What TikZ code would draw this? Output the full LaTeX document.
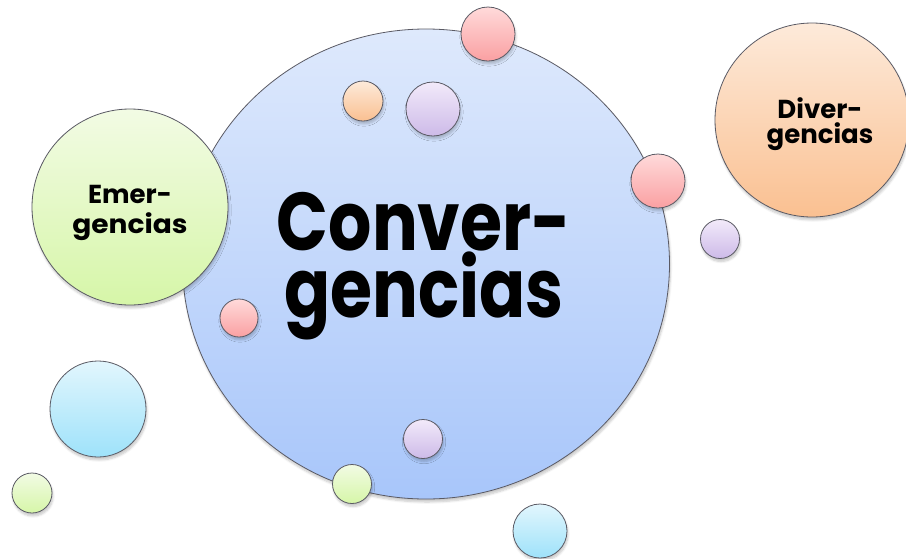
\documentclass[tikz,border=0pt]{standalone}
\usepackage{fontspec}
\setmainfont{Poppins}
\usetikzlibrary{shapes.geometric,shadows.blur}
\definecolor{blueT}{RGB}{222,233,252}
\definecolor{blueB}{RGB}{168,198,250}
\definecolor{greenT}{RGB}{242,251,228}
\definecolor{greenB}{RGB}{214,246,168}
\definecolor{orangeT}{RGB}{253,234,218}
\definecolor{orangeB}{RGB}{250,192,145}
\definecolor{pinkT}{RGB}{255,218,218}
\definecolor{pinkB}{RGB}{250,160,162}
\definecolor{purpT}{RGB}{242,234,250}
\definecolor{purpB}{RGB}{205,186,232}
\definecolor{cyanT}{RGB}{226,246,253}
\definecolor{cyanB}{RGB}{158,226,250}
\definecolor{edge}{RGB}{90,90,100}
\tikzset{
  bub/.style={circle, draw=edge, line width=0.8pt, inner sep=0pt,
    blur shadow={shadow xshift=1pt, shadow yshift=-3pt, shadow blur steps=6, shadow opacity=22}},
  bblue/.style={top color=blueT, bottom color=blueB},
  bgreen/.style={top color=greenT, bottom color=greenB},
  borange/.style={top color=orangeT, bottom color=orangeB},
  bpink/.style={top color=pinkT, bottom color=pinkB},
  bpurp/.style={top color=purpT, bottom color=purpB},
  bcyan/.style={top color=cyanT, bottom color=cyanB},
  bigtxt/.style={anchor=base, inner sep=0pt, align=center, font=\bfseries\fontsize{82}{67}\selectfont},
  smtxt/.style={anchor=base, inner sep=0pt, align=center},
}
\begin{document}
\begin{tikzpicture}[x=1pt,y=-1pt]
\useasboundingbox (0,0) rectangle (906,558);
% main circle
\node[ellipse, draw=edge, line width=0.8pt, inner sep=0pt, minimum width=487pt, minimum height=470pt, bblue,
  blur shadow={shadow xshift=1pt, shadow yshift=-3pt, shadow blur steps=6, shadow opacity=22}] (conv) at (426,264) {};
% side circles
\node[bub, bgreen, minimum size=196pt] (emer) at (130,207) {};
\node[bub, borange, minimum size=194pt] (diver) at (812,120) {};
% labels
\node[bigtxt] (tconv) at (424,317) {\scalebox{0.83}[1]{Conver-}\\\scalebox{0.83}[1]{gencias}};
\node[smtxt, font=\bfseries\fontsize{26}{30}\selectfont] (temer) at (130,233) {Emer-\\\scalebox{1.08}[1]{gencias}};
\node[smtxt, font=\bfseries\fontsize{26}{25}\selectfont] (tdiv) at (820,143) {Diver-\\gencias};
% small bubbles
\node[bub, bpink, minimum size=54pt] (p1) at (488,34) {};
\node[bub, borange, minimum size=40pt] (o1) at (363,101) {};
\node[bub, bpurp, minimum size=54pt] (u1) at (433,109) {};
\node[bub, bpink, minimum size=54pt] (p2) at (658,181) {};
\node[bub, bpurp, minimum size=39pt] (u2) at (720,239) {};
\node[bub, bpink, minimum size=38pt] (p3) at (239,318) {};
\node[bub, bpurp, minimum size=39pt] (u3) at (423,439) {};
\node[bub, bgreen, minimum size=39pt] (g1) at (352,484) {};
\node[bub, bcyan, minimum size=54pt] (c1) at (540,531) {};
\node[bub, bcyan, minimum size=96pt] (c2) at (98,409) {};
\node[bub, bgreen, minimum size=40pt] (g2) at (32,493) {};
\end{tikzpicture}
\end{document}
